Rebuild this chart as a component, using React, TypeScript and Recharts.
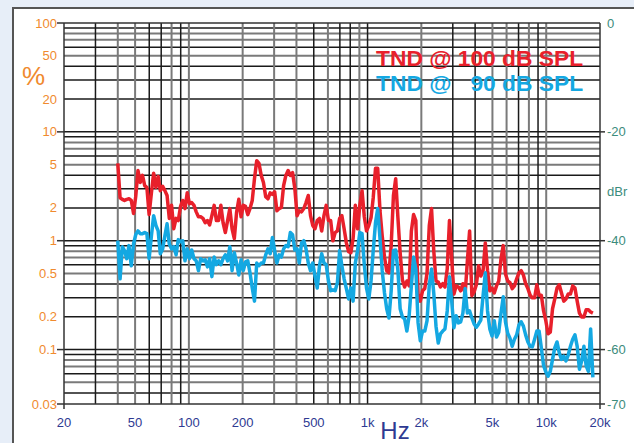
import React from "react";
import { LineChart, Line, XAxis, YAxis, ReferenceLine } from "recharts";

// 1/24-octave frequency points (Hz)
const freqs = [
  40, 41.2, 42.4, 43.6, 44.9, 46.2, 47.6, 49.0, 50.4, 51.9, 53.4, 55.0, 56.6, 58.2, 59.9, 61.7, 63.5, 65.4, 67.3, 69.2, 71.3, 73.4, 75.5, 77.7,
  80, 82.3, 84.8, 87.2, 89.8, 92.4, 95.1, 97.9, 100.8, 103.7, 106.8, 109.9, 113.1, 116.4, 119.9, 123.4, 127.0, 130.7, 134.5, 138.5, 142.5, 146.7, 151.0, 155.4,
  160, 164.7, 169.5, 174.5, 179.6, 184.9, 190.3, 195.9, 201.6, 207.5, 213.6, 219.8, 226.3, 232.9, 239.7, 246.8, 254.0, 261.4, 269.1, 277.0, 285.1, 293.4, 302.0, 310.9,
  320, 329.4, 339.0, 349.0, 359.2, 369.7, 380.5, 391.7, 403.2, 415.0, 427.1, 439.6, 452.5, 465.8, 479.5, 493.5, 508.0, 522.9, 538.2, 553.9, 570.2, 586.9, 604.1, 621.8,
  640, 658.7, 678.1, 697.9, 718.4, 739.4, 761.1, 783.4, 806.3, 829.9, 854.3, 879.3, 905.1, 931.6, 958.9, 987.0, 1016, 1046, 1076, 1108, 1140, 1174, 1208, 1244,
  1280, 1318, 1356, 1396, 1437, 1479, 1522, 1567, 1613, 1660, 1709, 1759, 1810, 1863, 1918, 1974, 2032, 2091, 2153, 2216, 2281, 2347, 2416, 2487,
  2560, 2635, 2712, 2792, 2874, 2958, 3044, 3134, 3225, 3320, 3417, 3517, 3620, 3726, 3836, 3948, 4064, 4183, 4305, 4432, 4561, 4695, 4833, 4974,
  5120, 5270, 5425, 5584, 5747, 5915, 6089, 6267, 6451, 6640, 6834, 7034, 7241, 7453, 7671, 7896, 8127, 8365, 8611, 8863, 9123, 9390, 9665, 9948,
  10240, 10540, 10849, 11167, 11494, 11831, 12177, 12534, 12901, 13279, 13668, 14069, 14482, 14906, 15343, 15792, 16255, 16731, 17222, 17726, 18246,
];

// TND @ 100 dB SPL, in dBr
const tnd100 = [
  -25.8, -32.1, -32.4, -32.6, -32.4, -32.3, -32.6, -35.0, -31.9, -27.1,
  -29.3, -28.0, -29.9, -30.2, -35.2, -31.2, -27.6, -30.2, -28.2, -30.8,
  -30.0, -30.8, -31.7, -35.9, -33.5, -37.8, -35.9, -36.3, -33.7, -32.6,
  -34.1, -31.2, -33.2, -33.0, -33.5, -34.7, -35.6, -35.6, -35.9, -36.7,
  -36.3, -37.1, -35.4, -33.5, -36.3, -36.3, -33.5, -36.7, -38.5, -36.3,
  -34.1, -37.8, -39.6, -34.8, -32.4, -35.6, -33.5, -33.7, -35.2, -34.1,
  -32.6, -28.6, -25.3, -25.8, -28.0, -29.3, -31.9, -32.3, -31.2, -31.5,
  -31.0, -34.5, -34.1, -33.9, -29.9, -28.0, -27.1, -28.0, -27.5, -30.4,
  -35.4, -34.5, -34.7, -34.1, -33.0, -31.7, -35.4, -37.2, -37.8, -36.3,
  -35.9, -38.2, -35.4, -33.5, -36.3, -36.3, -40.0, -38.5, -38.2, -35.9,
  -35.4, -37.8, -40.4, -42.0, -42.2, -39.6, -33.5, -37.8, -33.5, -30.8,
  -35.6, -38.2, -37.2, -35.8, -32.1, -26.7, -26.7, -34.5, -39.1, -43.0,
  -45.5, -45.9, -40.9, -31.7, -28.6, -35.8, -42.2, -47.2, -48.5, -47.4,
  -48.3, -38.2, -35.2, -36.3, -49.8, -51.1, -49.2, -48.8, -45.9, -37.2,
  -34.1, -41.8, -47.4, -47.6, -48.5, -47.9, -48.5, -45.2, -36.3, -43.3,
  -49.8, -48.3, -48.5, -49.2, -47.9, -49.8, -43.7, -38.2, -50.1, -49.4,
  -48.1, -44.6, -46.5, -45.5, -40.4, -45.5, -49.2, -48.7, -49.6, -48.3,
  -47.4, -43.3, -40.9, -46.1, -47.4, -47.7, -48.8, -48.3, -47.0, -45.9,
  -45.5, -46.3, -47.9, -48.8, -50.0, -50.5, -50.5, -48.1, -50.0, -50.0,
  -52.9, -54.7, -57.1, -56.8, -52.5, -50.7, -48.7, -48.1, -49.6, -51.1,
  -50.7, -49.8, -49.8, -48.3, -48.7, -51.1, -53.3, -54.0, -54.0, -52.7,
  -52.7, -53.1, -53.3,
];

// TND @ 90 dB SPL, in dBr
const tnd90 = [
  -40.0, -47.0, -41.1, -41.8, -43.3, -40.9, -44.6, -40.6, -38.9, -38.2,
  -38.7, -38.7, -38.5, -38.7, -43.3, -39.1, -35.4, -37.2, -38.2, -42.4,
  -41.5, -39.1, -36.9, -40.6, -41.5, -41.1, -42.6, -39.8, -40.2, -40.0,
  -43.7, -41.5, -43.3, -41.7, -43.3, -43.7, -45.5, -43.3, -43.7, -43.5,
  -44.8, -43.3, -46.6, -43.0, -44.4, -43.7, -44.4, -43.3, -42.6, -43.7,
  -41.1, -45.5, -42.2, -44.1, -46.3, -43.5, -45.5, -43.9, -43.7, -45.9,
  -48.7, -51.1, -44.1, -44.6, -44.1, -44.1, -42.6, -41.5, -42.4, -39.4,
  -41.8, -44.1, -42.6, -43.0, -41.5, -40.9, -41.1, -38.5, -38.9, -41.7,
  -41.5, -44.1, -40.4, -40.0, -41.5, -44.1, -45.5, -44.1, -46.5, -48.7,
  -44.6, -42.4, -44.1, -44.4, -47.4, -49.2, -49.0, -49.2, -47.7, -41.8,
  -44.6, -47.0, -48.8, -50.7, -48.7, -51.1, -44.1, -41.8, -38.5, -38.7,
  -44.4, -48.7, -50.7, -47.4, -41.8, -36.7, -34.1, -39.6, -45.5, -49.6,
  -52.5, -54.2, -49.2, -41.8, -41.7, -45.5, -52.5, -54.0, -54.4, -56.6,
  -53.8, -48.3, -43.0, -45.2, -55.1, -58.4, -56.6, -56.6, -54.7, -48.1,
  -45.2, -49.6, -55.7, -58.8, -57.1, -56.6, -56.2, -52.9, -46.6, -51.1,
  -56.0, -53.8, -55.1, -54.9, -53.3, -48.8, -53.3, -52.9, -54.2, -55.3,
  -55.9, -55.3, -54.6, -50.1, -45.9, -52.9, -56.2, -57.5, -54.7, -57.7,
  -56.8, -53.3, -50.3, -54.9, -57.0, -57.9, -59.4, -58.1, -57.3, -55.5,
  -54.9, -55.7, -57.3, -58.6, -59.4, -59.5, -58.1, -56.6, -56.6, -59.7,
  -62.9, -64.1, -64.9, -64.0, -61.8, -59.7, -58.6, -60.6, -61.8, -61.2,
  -62.1, -61.0, -59.4, -58.1, -57.3, -59.4, -63.6, -62.1, -59.4, -63.0,
  -64.0, -56.2, -65.1,
];

const xTicks = [20, 50, 100, 200, 500, 1000, 2000, 5000, 10000, 20000];
const xTickLabels = ["20", "50", "100", "200", "500", "1k", "2k", "5k", "10k", "20k"];

const pctTicks = [100, 50, 20, 10, 5, 2, 1, 0.5, 0.2, 0.1, 0.0316];
const pctTickLabels = ["100", "50", "20", "10", "5", "2", "1", "0.5", "0.2", "0.1", "0.03"];
const pctMajor = ["100", "10", "1", "0.1", "0.03"];

const dbTicks = [0, -20, -31, -40, -60, -70];
const dbTickLabels = ["0", "-20", "dBr", "-40", "-60", "-70"];

const xGrid = [
  30, 40, 50, 60, 70, 80, 90, 100, 200, 300, 400, 500, 600, 700, 800, 900,
  1000, 2000, 3000, 4000, 5000, 6000, 7000, 8000, 9000, 10000,
];
const xGridGray = [40, 50, 80, 100, 200, 300, 400, 600, 900, 2000, 5000, 6000, 8000, 10000];

const toDb = (p: number) => 20 * Math.log10(p / 100);

const yGrid: { db: number; gray: boolean }[] = [];
[0.01, 0.1, 1, 10].forEach((dec) => {
  for (let k = 1; k <= 9; k++) {
    const p = k * dec;
    if (p > 0.032 && p < 99.9) yGrid.push({ db: toDb(p), gray: [5, 7, 8].includes(k) });
  }
});

const data = freqs.map((f, i) => ({ f, r: tnd100[i], b: tnd90[i] }));

const ORANGE = "#F08A2E";
const TEAL = "#3C8C7C";
const NAVY = "#2E3A92";
const RED = "#E8202B";
const BLUE = "#14A8E2";
const FONT = "'Liberation Sans', Arial, sans-serif";

const LeftTick = (props: any) => {
  const { y, payload } = props;
  const i = pctTicks.findIndex((p) => Math.abs(Math.max(toDb(p), -70) - payload.value) < 0.05);
  const lbl = i >= 0 ? pctTickLabels[i] : "";
  return (
    <g>
      <text x={57} y={y} dy={4.5} textAnchor="end" fill={ORANGE} fontSize={13} fontFamily={FONT}>
        {lbl}
      </text>
      {pctMajor.includes(lbl) && <line x1={57} x2={64} y1={y} y2={y} stroke="#333" strokeWidth={1.5} />}
    </g>
  );
};

const RightTick = (props: any) => {
  const { y, payload } = props;
  const i = dbTicks.indexOf(payload.value);
  const lbl = dbTickLabels[i];
  return (
    <g>
      <text x={607} y={y} dy={4.5} textAnchor="start" fill={TEAL} fontSize={13} fontFamily={FONT}>
        {lbl}
      </text>
      {lbl !== "dBr" && lbl !== "0" && <line x1={600} x2={605} y1={y} y2={y} stroke="#333" strokeWidth={1.5} />}
    </g>
  );
};

const BottomTick = (props: any) => {
  const { x, payload } = props;
  const i = xTicks.indexOf(payload.value);
  return (
    <g>
      <text x={x} y={427} textAnchor="middle" fill={NAVY} fontSize={13} fontFamily={FONT}>
        {xTickLabels[i]}
      </text>
      {(i === 0 || i === xTicks.length - 1) && <line x1={x} x2={x} y1={404} y2={409} stroke="#333" strokeWidth={1.5} />}
    </g>
  );
};

export default function App() {
  return (
    <div style={{ position: "absolute", left: 0, top: 0, width: 634, height: 443, background: "#E7EEF8", overflow: "hidden" }}>
      <div
        style={{
          position: "absolute",
          left: 12,
          top: 7,
          width: 640,
          height: 450,
          background: "#fff",
          borderLeft: "2px solid #555",
          borderTop: "2px solid #555",
        }}
      />
      <div style={{ position: "absolute", left: 0, top: 0 }}>
        <LineChart width={634} height={443} data={data} margin={{ top: 23, right: 0, bottom: 0, left: 0 }}>
          <XAxis
            dataKey="f"
            type="number"
            scale="log"
            domain={[20, 20000]}
            allowDataOverflow
            ticks={xTicks}
            tick={<BottomTick />}
            tickLine={false}
            tickSize={0}
            height={39}
            axisLine={{ stroke: "#333", strokeWidth: 1.5 }}
            interval={0}
          />
          <YAxis
            yAxisId="l"
            type="number"
            domain={[-70, 0]}
            allowDataOverflow
            ticks={pctTicks.map((p) => Math.max(toDb(p), -70))}
            tick={<LeftTick />}
            tickLine={false}
            tickSize={0}
            width={64}
            axisLine={{ stroke: "#333", strokeWidth: 1.5 }}
            interval={0}
          />
          <YAxis
            yAxisId="r"
            orientation="right"
            type="number"
            domain={[-70, 0]}
            allowDataOverflow
            ticks={dbTicks}
            tick={<RightTick />}
            tickLine={false}
            tickSize={0}
            width={34}
            axisLine={{ stroke: "#333", strokeWidth: 1.5 }}
            interval={0}
          />
          {yGrid.map((g) => (
            <ReferenceLine
              key={"h" + g.db}
              yAxisId="l"
              y={g.db}
              stroke={g.gray ? "#7a7a7a" : "#1a1a1a"}
              strokeWidth={g.gray ? 2 : 1.5}
            />
          ))}
          {xGrid.map((f) => (
            <ReferenceLine
              key={"v" + f}
              yAxisId="l"
              x={f}
              stroke={xGridGray.includes(f) ? "#7a7a7a" : "#1a1a1a"}
              strokeWidth={xGridGray.includes(f) ? 2 : 1.5}
            />
          ))}
          <ReferenceLine yAxisId="l" y={0} stroke="#333" strokeWidth={1.5} />
          <Line
            yAxisId="l"
            dataKey="r"
            type="linear"
            stroke={RED}
            strokeWidth={3.5}
            strokeLinejoin="round"
            dot={false}
            isAnimationActive={false}
          />
          <Line
            yAxisId="l"
            dataKey="b"
            type="linear"
            stroke={BLUE}
            strokeWidth={3.5}
            strokeLinejoin="round"
            dot={false}
            isAnimationActive={false}
          />
        </LineChart>
      </div>
      <svg width={634} height={443} style={{ position: "absolute", left: 0, top: 0, pointerEvents: "none" }}>
        <text x={22} y={85} fill={ORANGE} fontSize={26} fontFamily={FONT}>%</text>
        <text x={395} y={439} textAnchor="middle" fill={NAVY} fontSize={24} fontFamily={FONT}>Hz</text>
        <text x={376} y={66} fill={RED} fontSize={22.8} fontWeight="bold" fontFamily={FONT} style={{ whiteSpace: "pre" }}>
          TND @ 100 dB SPL
        </text>
        <text x={376} y={91} fill={BLUE} fontSize={22.8} fontWeight="bold" fontFamily={FONT} style={{ whiteSpace: "pre" }}>
          {"TND @   90 dB SPL"}
        </text>
      </svg>
    </div>
  );
}
